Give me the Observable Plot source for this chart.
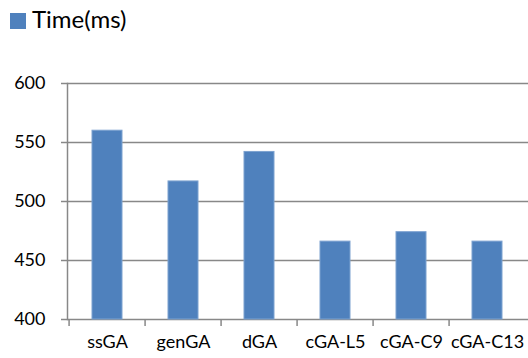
<!DOCTYPE html>
<html>
<head>
<meta charset="utf-8">
<script src="https://cdn.jsdelivr.net/npm/d3@7"></script>
<script src="https://cdn.jsdelivr.net/npm/@observablehq/plot@0.6"></script>
<style>
  body { margin: 0; background: #fff; }
  #legend { position: relative; width: 528px; height: 40px; font-family: Lato, "Open Sans", sans-serif; }
  #legend .swatch { position: absolute; left: 10px; top: 13px; width: 16px; height: 16px; background: #4F81BD; }
  #legend .label { position: absolute; left: 32px; top: 4px; font-size: 24px; line-height: 29px; color: #000; }
</style>
</head>
<body>
<div id="legend"><div class="swatch"></div><div class="label">Time(ms)</div></div>
<div id="chart"></div>
<script>
// Run time per GA variant
const categories = ["ssGA", "genGA", "dGA", "cGA-L5", "cGA-C9", "cGA-C13"];
const times = [560, 517, 542, 466, 474, 466];
const yTicks = [400, 450, 500, 550, 600];

const rows = categories.map((name, i) => ({name, time: times[i]}));

const width = 528, height = 318;
const marginLeft = 67, marginRight = 0;
const paddingInner = 0.6, paddingOuter = 0.3;
const step = (width - marginLeft - marginRight) / (categories.length - paddingInner + 2 * paddingOuter);
const gray = "#888";

const chart = Plot.plot({
  width, height,
  marginTop: 43, marginBottom: 39, marginLeft, marginRight,
  style: {fontFamily: "Lato, 'Open Sans', sans-serif", fontSize: "18px", color: "#000", background: "#fff"},
  x: {domain: categories, paddingInner, paddingOuter, label: null},
  y: {domain: [yTicks[0], yTicks[yTicks.length - 1]], label: null},
  marks: [
    Plot.gridY(yTicks, {stroke: gray, strokeOpacity: 1, strokeWidth: 1.5}),
    Plot.frame({anchor: "left", stroke: gray, strokeWidth: 1.5}),
    Plot.barY(rows, {x: "name", y1: yTicks[0], y2: "time", fill: "#4F81BD", stroke: "#7DA2D0", strokeWidth: 1}),
    Plot.axisY(yTicks, {tickSize: 6, tickPadding: 16, stroke: gray, strokeWidth: 1.5, fill: "#000"}),
    // category boundary ticks below the baseline
    Plot.axisX({tickSize: 7, dx: -step / 2, stroke: gray, strokeWidth: 1.5, tickFormat: () => ""}),
    Plot.axisX({tickSize: 0, tickPadding: 16, fill: "#000"})
  ]
});
document.getElementById("chart").append(chart);
</script>
</body>
</html>
